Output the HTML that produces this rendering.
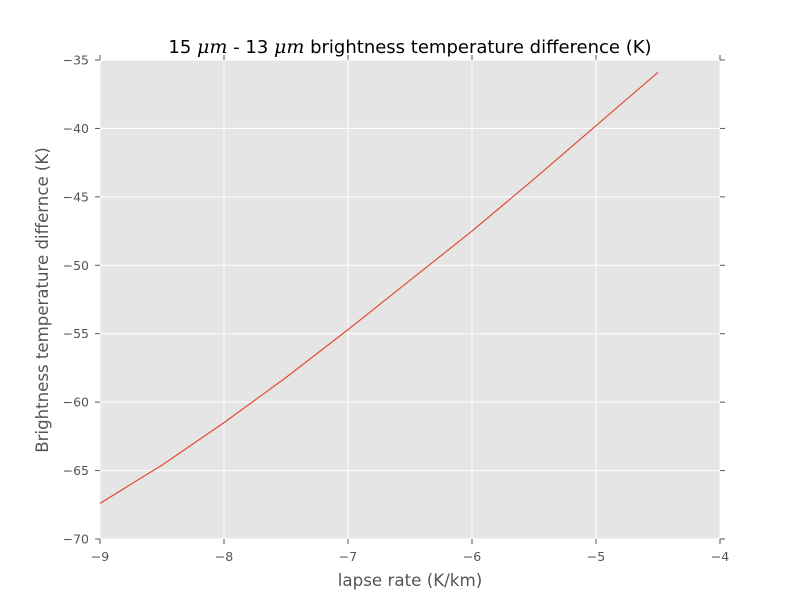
<!DOCTYPE html>
<html><head><meta charset="utf-8"><style>
body{margin:0;background:#fff;}
svg text{font-family:"DejaVu Sans","Liberation Sans",sans-serif;}
</style></head><body>
<svg id="chart" width="800" height="600">
<rect x="0" y="0" width="800" height="600" fill="#fff"/>
<rect x="100" y="60" width="620" height="479" fill="#e5e5e5"/>
<g id="grid"></g>
<g id="ticks"></g>
<path id="line" fill="none" stroke="#e24a33" stroke-width="1.2"/>
<text x="410" y="53" font-size="18" text-anchor="middle" fill="#000">15 <tspan font-family="DejaVu Serif" font-style="italic" font-size="19">μm</tspan>  - 13 <tspan font-family="DejaVu Serif" font-style="italic" font-size="19">μm</tspan>  brightness temperature difference (K)</text>
<text x="410" y="586" font-size="16.7" text-anchor="middle" fill="#555">lapse rate (K/km)</text>
<text x="48" y="300" font-size="16.6" text-anchor="middle" fill="#555" transform="rotate(-90 48 300)">Brightness temperature differnce (K)</text>
</svg>
<script>
const xValues=[-9,-8.5,-8,-7.5,-7,-6.5,-6,-5.5,-5,-4.5];
const yValues=[-67.4,-64.6,-61.5,-58.2,-54.7,-51.1,-47.5,-43.7,-39.8,-35.9];
const xTicks=[-9,-8,-7,-6,-5,-4];
const yTicks=[-70,-65,-60,-55,-50,-45,-40,-35];
const L=100,R=720,T=60,B=539;
const sx=v=>L+(v-(-9))/5*(R-L);
const sy=v=>B-(v-(-70))/35*(B-T);
const ns="http://www.w3.org/2000/svg";
const grid=document.getElementById('grid'),ticks=document.getElementById('ticks');
function mk(tag,a,p){const e=document.createElementNS(ns,tag);for(const k in a)e.setAttribute(k,a[k]);p.appendChild(e);return e;}
xTicks.forEach(v=>{const x=sx(v);
const g=mk('line',{x1:x,x2:x,y1:T,y2:B,stroke:'#fff','stroke-width':1},grid);


mk('line',{x1:x,x2:x,y1:B,y2:B+5,stroke:'#555'},ticks);
mk('line',{x1:x,x2:x,y1:T,y2:T-5,stroke:'#555'},ticks);
const t=mk('text',{x:x,y:B+22,'font-size':12.5,'text-anchor':'middle',fill:'#555'},ticks);
t.textContent=String(v).replace('-','−');

});
yTicks.forEach(v=>{const y=sy(v);
const g=mk('line',{x1:L,x2:R,y1:y,y2:y,stroke:'#fff','stroke-width':1},grid);


mk('line',{x1:L,x2:L-5,y1:y,y2:y,stroke:'#555'},ticks);
mk('line',{x1:R,x2:R+5,y1:y,y2:y,stroke:'#555'},ticks);
const t=mk('text',{x:L-11,y:y+4.5,'font-size':12.5,'text-anchor':'end',fill:'#555'},ticks);
t.textContent=String(v).replace('-','−');

});
document.getElementById('line').setAttribute('d',xValues.map((v,i)=>(i?'L':'M')+sx(v)+','+sy(yValues[i])).join(''));
</script>
</body></html>
